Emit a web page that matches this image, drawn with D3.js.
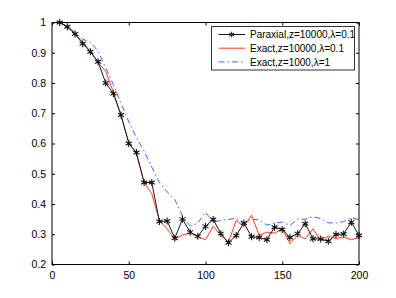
<!DOCTYPE html>
<html>
<head>
<meta charset="utf-8">
<script src="https://cdn.jsdelivr.net/npm/d3@7"></script>
<style>
  body { margin: 0; background: #fff; }
  svg { display: block; font-family: "Liberation Sans", Arial, Helvetica, sans-serif; }
</style>
</head>
<body>
<svg id="chart" width="396" height="298"></svg>
<script>
// sample positions (shared by all three curves)
var xs = [5, 10, 15, 20, 25, 30, 35, 40, 45, 50,
          55, 60, 65, 70, 75, 80, 85, 90, 95, 100,
          105, 110, 115, 120, 125, 130, 135, 140, 145, 150,
          155, 160, 165, 170, 175, 180, 185, 190, 195, 200];

// Paraxial, z=10000, lambda=0.1 (black with stars)
var paraxial = [1.0, 0.986, 0.962, 0.93, 0.903, 0.87, 0.80, 0.765, 0.694, 0.60,
                0.57, 0.471, 0.471, 0.342, 0.344, 0.287, 0.35, 0.307, 0.293, 0.326,
                0.349, 0.302, 0.272, 0.296, 0.337, 0.292, 0.289, 0.282, 0.323, 0.316,
                0.289, 0.302, 0.335, 0.285, 0.284, 0.277, 0.299, 0.301, 0.34, 0.296];

// Exact, z=10000, lambda=0.1 (red)
var exactFar = [1.0, 0.985, 0.963, 0.935, 0.905, 0.868, 0.838, 0.77, 0.69, 0.605,
                0.565, 0.47, 0.434, 0.345, 0.318, 0.284, 0.298, 0.303, 0.292, 0.282,
                0.326, 0.296, 0.274, 0.346, 0.326, 0.363, 0.296, 0.307, 0.304, 0.318,
                0.269, 0.296, 0.285, 0.318, 0.28, 0.294, 0.285, 0.291, 0.282, 0.289];

// Exact, z=1000, lambda=1 (blue dash-dot)
var exactNear = [1.0, 0.988, 0.967, 0.945, 0.935, 0.905, 0.85, 0.795, 0.732, 0.672,
                 0.62, 0.575, 0.522, 0.47, 0.44, 0.415, 0.36, 0.327, 0.337, 0.373,
                 0.34, 0.346, 0.349, 0.353, 0.336, 0.349, 0.348, 0.33, 0.337, 0.34,
                 0.329, 0.35, 0.35, 0.358, 0.352, 0.338, 0.337, 0.342, 0.355, 0.348];

var xTicks = [0, 50, 100, 150, 200];
var yTicks = [0.2, 0.3, 0.4, 0.5, 0.6, 0.7, 0.8, 0.9, 1];
var legendLabels = ['Paraxial,z=10000,\u03bb=0.1', 'Exact,z=10000,\u03bb=0.1', 'Exact,z=1000,\u03bb=1'];

var margin = {top: 22.5, right: 37, bottom: 33.5, left: 52};
var svg = d3.select('#chart');
var W = +svg.attr('width'), H = +svg.attr('height');
var w = W - margin.left - margin.right;
var h = H - margin.top - margin.bottom;

var x = d3.scaleLinear().domain([0, 200]).range([0, w]);
var y = d3.scaleLinear().domain([0.2, 1]).range([h, 0]);

var g = svg.append('g').attr('transform', 'translate(' + margin.left + ',' + margin.top + ')');

var series = [
  {name: legendLabels[0], values: paraxial, color: '#1a1a1a', dash: null, star: true},
  {name: legendLabels[1], values: exactFar, color: '#ff3b1f', dash: null, star: false},
  {name: legendLabels[2], values: exactNear, color: '#3a64ff', dash: '6,3,1.5,3', star: false}
];

var line = d3.line()
  .x(function(d) { return x(d[0]); })
  .y(function(d) { return y(d[1]); });

var star = d3.symbol().type(d3.symbolAsterisk).size(34);

// curves, drawn so black ends on top like in matlab order reversed
[series[2], series[1], series[0]].forEach(function(s) {
  var pts = xs.map(function(v, i) { return [v, s.values[i]]; });
  g.append('path')
    .datum(pts)
    .attr('fill', 'none')
    .attr('stroke', s.color)
    .attr('stroke-width', 1)
    .attr('stroke-dasharray', s.dash)
    .attr('d', line);
  if (s.star) {
    g.selectAll('.star')
      .data(pts)
      .enter().append('path')
      .attr('class', 'star')
      .attr('transform', function(d) { return 'translate(' + x(d[0]) + ',' + y(d[1]) + ')'; })
      .attr('d', star)
      .attr('fill', 'none')
      .attr('stroke', '#111')
      .attr('stroke-width', 1.1);
  }
});

// axes box with inward ticks on all sides
var xAxis = d3.axisBottom(x).tickValues(xTicks).tickSizeInner(-3).tickSizeOuter(0).tickPadding(7);
var yAxis = d3.axisLeft(y).tickValues(yTicks).tickSizeInner(-3).tickSizeOuter(0).tickPadding(6)
  .tickFormat(function(d) { return d === 1 ? '1' : d3.format('.1f')(d); });

var gx = g.append('g').attr('transform', 'translate(0,' + h + ')').call(xAxis);
var gy = g.append('g').call(yAxis);
g.append('g').call(d3.axisTop(x).tickValues(xTicks).tickSizeInner(-3).tickSizeOuter(0).tickFormat(''));
g.append('g').attr('transform', 'translate(' + w + ',0)')
  .call(d3.axisRight(y).tickValues(yTicks).tickSizeInner(-3).tickSizeOuter(0).tickFormat(''));

g.selectAll('.domain').remove();
g.selectAll('.tick line').attr('stroke', '#000');
g.selectAll('.tick text').attr('font-size', 10.5).attr('fill', '#000')
  .attr('font-family', '"Liberation Sans", Arial, sans-serif');

g.append('rect')
  .attr('x', 0).attr('y', 0).attr('width', w).attr('height', h)
  .attr('fill', 'none').attr('stroke', '#000').attr('stroke-width', 1);

// legend
var lg = svg.append('g').attr('transform', 'translate(211.5,26.5)');
lg.append('rect')
  .attr('width', 143).attr('height', 43.5)
  .attr('fill', '#fff').attr('stroke', '#333').attr('stroke-width', 1);

series.forEach(function(s, i) {
  var cy = 8 + i * 13.7;
  lg.append('line')
    .attr('x1', 7).attr('x2', 33.5).attr('y1', cy).attr('y2', cy)
    .attr('stroke', s.color).attr('stroke-width', 1)
    .attr('stroke-dasharray', s.dash);
  if (s.star) {
    lg.append('path')
      .attr('transform', 'translate(20.2,' + cy + ')')
      .attr('d', d3.symbol().type(d3.symbolAsterisk).size(22))
      .attr('fill', 'none').attr('stroke', '#111');
  }
  lg.append('text')
    .attr('x', 38.5).attr('y', cy + 3.6)
    .attr('font-size', 10)
    .attr('fill', '#000')
    .text(s.name);
});
</script>
</body>
</html>
